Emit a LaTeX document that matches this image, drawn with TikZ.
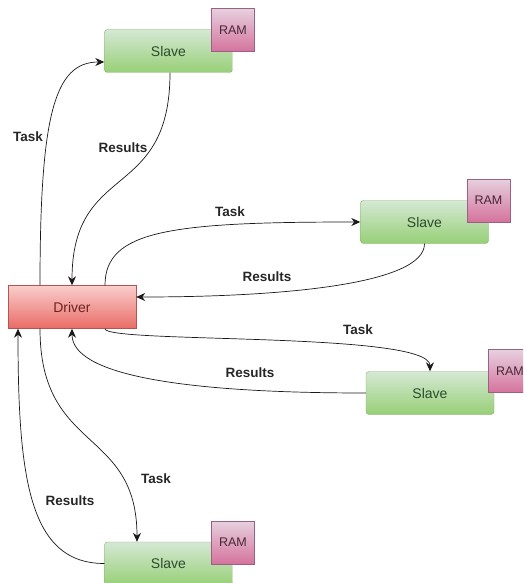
\documentclass[tikz,border=0pt]{standalone}
\usepackage{fontspec}
\setmainfont{Liberation Sans}
\usetikzlibrary{arrows.meta}

\definecolor{slavefill}{HTML}{D5E8D4}
\definecolor{slavedark}{HTML}{97D077}
\definecolor{slaveline}{HTML}{82B366}
\definecolor{driverfill}{HTML}{F8CECC}
\definecolor{driverdark}{HTML}{EA6B66}
\definecolor{driverline}{HTML}{B85450}
\definecolor{ramfill}{HTML}{E6D0DE}
\definecolor{ramdark}{HTML}{D5739D}
\definecolor{ramline}{HTML}{996185}

\begin{document}
\begin{tikzpicture}[x=1pt,y=-1pt,
    slave/.style ={draw=slaveline, rounded corners=3pt, top color=slavefill,
      bottom color=slavedark, minimum width=128pt, minimum height=43pt,
      inner sep=0pt, text={rgb,255:red,45;green,75;blue,45},
      font=\fontsize{14}{16}\selectfont},
    driver/.style ={draw=driverline, top color=driverfill, bottom color=driverdark,
      minimum width=128pt, minimum height=43pt, inner sep=0pt,
      text={rgb,255:red,110;green,35;blue,35}, font=\fontsize{14}{16}\selectfont},
    ram/.style ={draw=ramline, top color=ramfill, bottom color=ramdark,
      minimum width=43pt, minimum height=43pt, inner sep=0pt,
      text={rgb,255:red,70;green,40;blue,55}, font=\fontsize{12.5}{14}\selectfont},
    link/.style ={-{Stealth[length=9pt,width=8pt]}, black!90, line width=0.7pt},
    tag/.style ={font=\bfseries\fontsize{13.5}{15}\selectfont, text=black!85}]
   \useasboundingbox (0,0) rectangle (523,583);
   \clip (0,0) rectangle (523,583);

   \node[driver] (driver) at (72,307)  {Driver};
   \node[slave] (slaveA) at (168.5,51)  {Slave};
   \node[ram] (ramA) at (233,30)  {RAM};
   \node[slave] (slaveB) at (424.5,222)  {Slave};
   \node[ram] (ramB) at (488.5,200.5)  {RAM};
   \node[slave] (slaveC) at (430,393)  {Slave};
   \node[ram] (ramC) at (510,371)  {RAM};
   \node[slave] (slaveD) at (168.5,563.5)  {Slave};
   \node[ram] (ramD) at (233,542.5)  {RAM};

   \draw[link] ([xshift=-32pt]driver.north) .. controls +(0,-170) and +(-50,0) .. ([yshift=-11pt]slaveA.west);
   \draw[link] ([xshift=1.5pt]slaveA.south) .. controls +(0,130) and +(0,-125) .. (driver.north);
   \draw[link] ([xshift=33pt]driver.north) .. controls +(0,-55) and +(-190,0) .. (slaveB.west);
   \draw[link] (slaveB.south) .. controls +(0,40) and +(150,0) .. ([yshift=10pt]driver.east);
   \draw[link] ([xshift=33pt]driver.south) .. controls +(0,15) and +(0,-40) .. (slaveC.north);
   \draw[link] (slaveC.west) .. controls +(-190,0) and +(0,45) .. (driver.south);
   \draw[link] ([xshift=-32pt]driver.south) .. controls +(0,125) and +(0,-115) .. ([xshift=-31.5pt]slaveD.north);
   \draw[link] (slaveD.west) .. controls +(-75,0) and +(0,150) .. ([xshift=-54pt]driver.south);

   \node[tag] (taskA) at (28,137)  {Task};
   \node[tag] (resA) at (123,148)  {Results};
   \node[tag] (taskB) at (230,212)  {Task};
   \node[tag] (resB) at (267,277)  {Results};
   \node[tag] (taskC) at (358,330)  {Task};
   \node[tag] (resC) at (250,373)  {Results};
   \node[tag] (taskD) at (156,479)  {Task};
   \node[tag] (resD) at (70,501)  {Results};
 \end{tikzpicture}
\end{document}
